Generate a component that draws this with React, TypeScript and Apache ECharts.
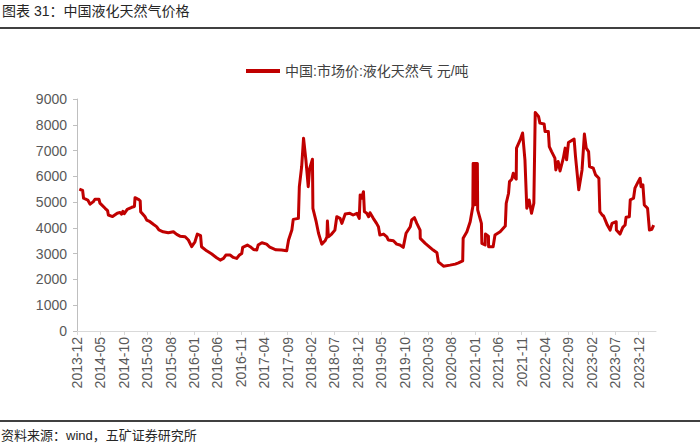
import React, { useEffect, useRef } from "react";
import * as echarts from "echarts";

const seriesName = "中国:市场价:液化天然气 元/吨";

const dates = [
  "2013-12-16", "2014-01-07", "2014-01-13", "2014-02-10", "2014-02-25", "2014-03-16", "2014-03-26", "2014-04-22", "2014-04-28", "2014-06-01",
  "2014-06-17", "2014-06-22", "2014-07-19", "2014-08-19", "2014-09-07", "2014-09-17", "2014-09-25", "2014-10-04", "2014-10-23", "2014-11-22",
  "2014-12-09", "2014-12-13", "2015-01-04", "2015-01-16", "2015-01-19", "2015-02-16", "2015-02-28", "2015-03-19", "2015-04-10", "2015-05-01",
  "2015-05-16", "2015-06-13", "2015-07-16", "2015-08-19", "2015-09-10", "2015-10-01", "2015-11-04", "2015-11-25", "2015-12-16", "2016-01-07",
  "2016-01-22", "2016-02-13", "2016-02-19", "2016-03-22", "2016-04-25", "2016-05-26", "2016-06-19", "2016-07-10", "2016-07-25", "2016-08-22",
  "2016-09-13", "2016-10-04", "2016-10-22", "2016-11-07", "2016-11-13", "2016-12-13", "2017-01-01", "2017-01-22", "2017-02-13", "2017-02-22",
  "2017-03-16", "2017-04-16", "2017-05-07", "2017-06-16", "2017-07-22", "2017-08-25", "2017-09-07", "2017-09-28", "2017-10-07", "2017-11-10",
  "2017-11-16", "2017-12-01", "2017-12-13", "2017-12-28", "2018-01-13", "2018-01-22", "2018-02-10", "2018-02-13", "2018-03-04", "2018-03-19",
  "2018-04-10", "2018-05-01", "2018-05-13", "2018-05-16", "2018-05-22", "2018-06-13", "2018-07-04", "2018-07-16", "2018-08-07", "2018-08-19",
  "2018-09-10", "2018-10-10", "2018-11-01", "2018-11-25", "2018-12-10", "2018-12-16", "2018-12-25", "2019-01-07", "2019-01-13", "2019-01-28",
  "2019-02-10", "2019-02-19", "2019-03-10", "2019-04-01", "2019-04-13", "2019-04-22", "2019-05-16", "2019-06-07", "2019-06-16", "2019-07-19",
  "2019-08-10", "2019-09-01", "2019-09-22", "2019-10-10", "2019-11-07", "2019-11-16", "2019-12-04", "2019-12-19", "2020-01-10", "2020-01-11",
  "2020-02-13", "2020-03-13", "2020-04-04", "2020-04-28", "2020-05-07", "2020-06-10", "2020-07-22", "2020-08-25", "2020-09-16", "2020-10-13",
  "2020-10-16", "2020-11-10", "2020-12-01", "2020-12-18",
  "2020-12-20", "2020-12-22", "2020-12-24", "2020-12-26", "2020-12-28", "2020-12-30", "2021-01-01", "2021-01-03",
  "2021-01-05", "2021-01-07", "2021-01-09", "2021-01-11", "2021-01-13", "2021-01-15", "2021-01-17",
  "2021-01-19", "2021-02-13", "2021-02-16", "2021-03-07", "2021-03-09", "2021-03-28", "2021-03-29", "2021-04-28", "2021-05-10",
  "2021-06-13", "2021-07-16", "2021-07-22", "2021-08-07", "2021-08-13", "2021-08-28", "2021-09-07", "2021-09-16", "2021-09-26", "2021-09-28",
  "2021-10-22", "2021-11-07", "2021-11-22", "2021-12-04", "2021-12-19", "2022-01-04", "2022-01-19", "2022-01-28", "2022-02-19", "2022-02-28",
  "2022-03-25", "2022-04-01", "2022-04-22", "2022-04-28", "2022-05-13", "2022-06-04", "2022-06-10", "2022-06-25", "2022-07-07", "2022-07-28",
  "2022-08-10", "2022-08-19", "2022-09-01", "2022-10-07", "2022-10-16", "2022-11-07", "2022-11-28", "2022-12-13", "2022-12-25", "2023-01-10",
  "2023-01-16", "2023-02-10", "2023-02-25", "2023-03-16", "2023-03-22", "2023-04-07", "2023-04-16", "2023-04-25", "2023-05-10", "2023-05-28",
  "2023-06-10", "2023-07-07", "2023-07-08", "2023-08-01", "2023-08-19", "2023-09-04", "2023-09-10", "2023-10-01", "2023-10-07", "2023-10-28",
  "2023-11-07", "2023-11-28", "2023-12-10", "2023-12-16", "2023-12-28", "2024-01-07", "2024-01-28", "2024-02-10", "2024-02-25", "2024-03-07",
];

const prices = [
  5500, 5450, 5150, 5080, 4920, 5020, 5110, 5110, 4960, 4760,
  4670, 4500, 4440, 4570, 4600, 4530, 4640, 4550, 4720, 4800,
  4830, 5170, 5110, 5050, 4630, 4440, 4300, 4240, 4140, 4050,
  3920, 3850, 3810, 3850, 3750, 3680, 3655, 3530, 3270, 3460,
  3760, 3700, 3270, 3110, 2985, 2840, 2750, 2815, 2945, 2945,
  2855, 2815, 2945, 3010, 3245, 3335, 3270, 3165, 3140, 3335,
  3425, 3370, 3250, 3150, 3140, 3110, 3530, 3915, 4330, 4370,
  5600, 6380, 7480, 6640, 5600, 6300, 6665, 4760, 4240, 3790,
  3370, 3500, 3655, 4265, 3655, 3760, 3915, 4435, 4370, 4175,
  4540, 4565, 4500, 4565, 4370, 5280, 5150, 5405, 4630, 4565,
  4435, 4590, 4370, 4175, 4045, 3720, 3760, 3655, 3530, 3500,
  3370, 3335, 3245, 3790, 4045, 4305, 4395, 4175, 3915, 3595,
  3400, 3245, 3140, 3035, 2685, 2515, 2555, 2595, 2645, 2720,
  3595, 3850, 4240, 4825,
  6500, 4900, 6500, 4900, 6500, 4900, 6500, 4900,
  6500, 4950, 6500, 4950, 6500, 4950, 6500,
  4700, 4175, 3400, 3335, 3760, 3680, 3270, 3270, 3720,
  3850, 4070, 4955, 5345, 5795, 5890, 6120, 5970, 5890, 7095,
  7420, 7680, 6640, 4760, 5085, 4565, 4955, 8480, 8325, 8065,
  8030, 7740, 7740, 7155, 6960, 6705, 6250, 6575, 6210, 6705,
  7095, 6640, 7315, 7450, 6770, 5475, 6250, 7640, 7095, 6960,
  6380, 6315, 6055, 5925, 4630, 4500, 4460, 4330, 4110, 3915,
  4175, 4240, 3915, 3760, 4020, 4110, 4410, 4435, 5085, 5150,
  5540, 5795, 5925, 5600, 5670, 4890, 4760, 3915, 3945, 4110,
];

const tickLabels = [
  "2013-12", "2014-05", "2014-10", "2015-03", "2015-08", "2016-01", "2016-06", "2016-11", "2017-04", "2017-09",
  "2018-02", "2018-07", "2018-12", "2019-05", "2019-10", "2020-03", "2020-08", "2021-01", "2021-06", "2021-11",
  "2022-04", "2022-09", "2023-02", "2023-07", "2023-12",
];

const axisEndDate = "2024-03-22";

const yTicks = [0, 1000, 2000, 3000, 4000, 5000, 6000, 7000, 8000, 9000];

function monthIndex(s: string): number {
  const parts = s.split("-").map(Number);
  const y = parts[0];
  const m = parts[1];
  const d = parts[2] || 1;
  return (y - 2013) * 12 + (m - 12) + (d - 1) / 30;
}

export default function App() {
  const ref = useRef<HTMLDivElement>(null);

  useEffect(() => {
    if (!ref.current) return;
    const chart = echarts.init(ref.current, undefined, { renderer: "svg" });
    const tickVals = tickLabels.map(monthIndex);
    const data = dates.map((d, i) => [monthIndex(d), prices[i]]);
    const font = '"Liberation Sans", Arial, "Noto Sans CJK SC", sans-serif';

    chart.setOption({
      animation: false,
      textStyle: { fontFamily: font },
      grid: { left: 77, right: 44, top: 99, bottom: 117, containLabel: false },
      legend: {
        data: [seriesName],
        left: 241,
        top: 59,
        icon: "rect",
        itemWidth: 34,
        itemHeight: 4,
        itemGap: 10,
        textStyle: { color: "#404040", fontSize: 14, fontFamily: font },
      },
      xAxis: {
        type: "value",
        min: 0,
        max: monthIndex(axisEndDate),
        splitLine: { show: false },
        axisLine: { show: true, lineStyle: { color: "#D9D9D9", width: 1 } },
        axisTick: {
          show: true,
          length: 4,
          customValues: tickVals,
          lineStyle: { color: "#D9D9D9" },
        },
        axisLabel: {
          rotate: 90,
          margin: 6,
          color: "#595959",
          fontSize: 14,
          fontFamily: font,
          customValues: tickVals,
          formatter: (v: number) => {
            const i = tickVals.findIndex((t) => Math.abs(t - v) < 1e-6);
            return i >= 0 ? tickLabels[i] : "";
          },
        },
      },
      yAxis: {
        type: "value",
        min: yTicks[0],
        max: yTicks[yTicks.length - 1],
        interval: 1000,
        splitLine: { show: false },
        axisLine: { show: true, lineStyle: { color: "#BFBFBF", width: 1 } },
        axisTick: { show: true, length: 4, lineStyle: { color: "#BFBFBF" } },
        axisLabel: {
          color: "#595959",
          fontSize: 14,
          margin: 10,
          fontFamily: font,
          formatter: (v: number) => String(v),
        },
      },
      series: [
        {
          name: seriesName,
          type: "line",
          data,
          symbol: "none",
          lineStyle: { color: "#C00000", width: 3, join: "round" },
          itemStyle: { color: "#C00000" },
        },
      ],
      graphic: [
        {
          type: "text",
          left: 2,
          top: 4,
          style: {
            text: "图表 31：中国液化天然气价格",
            fill: "#262626",
            font: `14px ${font}`,
          },
        },
        {
          type: "line",
          shape: { x1: 0, y1: 28, x2: 700, y2: 28 },
          style: { stroke: "#000000", lineWidth: 1.5 },
        },
        {
          type: "line",
          shape: { x1: 0, y1: 421, x2: 700, y2: 421 },
          style: { stroke: "#000000", lineWidth: 1.5 },
        },
        {
          type: "text",
          left: 1,
          top: 429,
          style: {
            text: "资料来源：wind，五矿证券研究所",
            fill: "#262626",
            font: `13px ${font}`,
          },
        },
      ],
    });

    return () => {
      chart.dispose();
    };
  }, []);

  return (
    <div
      ref={ref}
      style={{ position: "fixed", left: 0, top: 0, width: 700, height: 448, background: "#ffffff" }}
    />
  );
}
